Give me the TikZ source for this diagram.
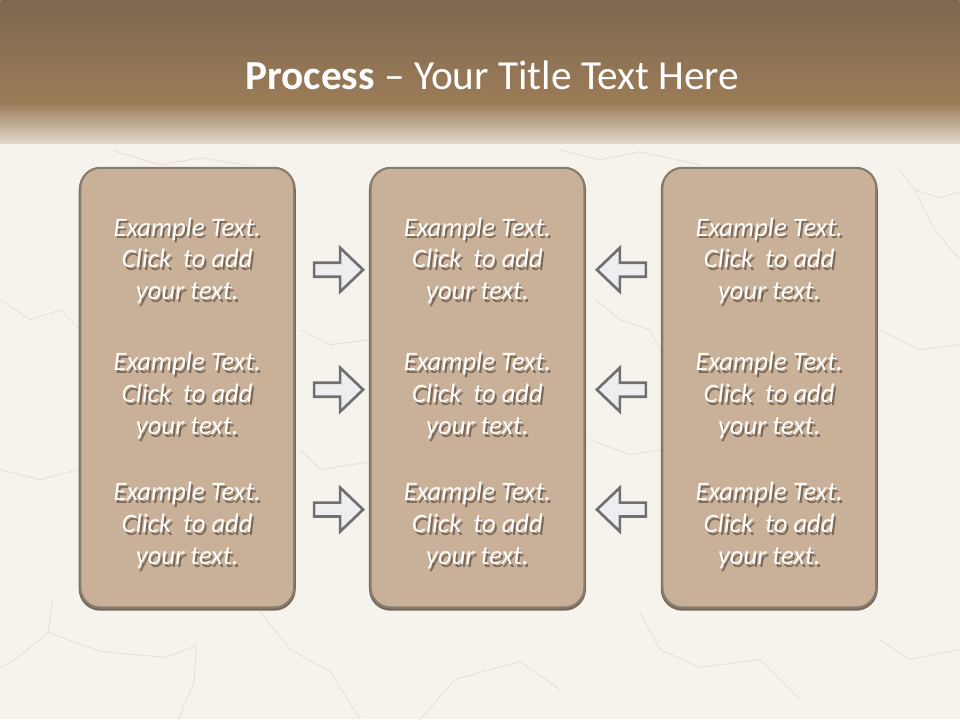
\documentclass[tikz,border=0pt]{standalone}
\usepackage{fontspec}
\setmainfont{Carlito}
\usetikzlibrary{positioning}

\definecolor{paper}{RGB}{246,242,236}
\definecolor{crack}{RGB}{229,222,215}
\definecolor{hdtop}{RGB}{125,103,80}
\definecolor{hdbot}{RGB}{156,124,88}
\definecolor{hdfade}{RGB}{226,216,205}
\definecolor{panelfill}{RGB}{201,177,153}
\definecolor{panelline}{RGB}{138,124,108}
\definecolor{panelshade}{RGB}{125,105,86}
\definecolor{arrowfill}{RGB}{238,238,240}
\definecolor{arrowline}{RGB}{112,112,112}

% panel text, with a soft shadow behind it
\newcommand\blurbtext{\begin{tabular}{@{}c@{}}Example Text.\\Click\ \ to add\\your text.\end{tabular}}
\newcommand\withshadow[1]{\rlap{\hspace{1.5pt}\raisebox{-1.8pt}{\color{panelshade}#1}}#1}

\begin{document}
\begin{tikzpicture}[
  x=0.75pt, y=-0.75pt,
  panel/.style={draw=panelline, line width=1.6pt, fill=panelfill,
                rounded corners=15pt, minimum width=160.5pt, minimum height=330pt,
                preaction={draw=panelline!85!black, line width=2.4pt,
                           transform canvas={yshift=-1.2pt}}},
  blurb/.style={inner sep=0pt, text=white, font=\fontsize{20}{24}\selectfont\itshape},
  pics/rarr/.style={code={
    \draw[draw=arrowline, fill=arrowfill, line width=2pt, line join=miter]
      (-24.5,-7) -- (1.5,-7) -- (1.5,-22) -- (24.5,0) -- (1.5,22) -- (1.5,7)
      -- (-24.5,7) -- cycle;}},
  pics/larr/.style={code={
    \draw[draw=arrowline, fill=arrowfill, line width=2pt, line join=miter]
      (24.5,-7) -- (-1.5,-7) -- (-1.5,-22) -- (-24.5,0) -- (-1.5,22) -- (-1.5,7)
      -- (24.5,7) -- cycle;}},
]
% background and header band
\fill[paper] (0,0) rectangle (960,720);
\begin{scope}[crack, line width=0.6pt]
  \draw (52,600) -- (48,633) -- (15,660) -- (0,668);
  \draw (48,633) -- (100,652) -- (165,658) -- (196,646);
  \draw (196,646) -- (194,682) -- (178,720);
  \draw (260,612) -- (290,650) -- (330,672) -- (360,720);
  \draw (420,720) -- (455,680) -- (520,662) -- (560,690);
  \draw (640,612) -- (660,650) -- (700,668) -- (760,660) -- (800,700);
  \draw (880,640) -- (910,660) -- (960,650);
  \draw (900,170) -- (915,190) -- (940,198) -- (960,192);
  \draw (915,190) -- (935,230) -- (960,260);
  \draw (880,330) -- (920,350) -- (960,345);
  \draw (0,300) -- (30,320) -- (60,310) -- (80,330);
  \draw (0,470) -- (40,480) -- (78,470);
  \draw (596,300) -- (620,320) -- (650,330) -- (663,355);
  \draw (300,330) -- (330,345) -- (370,340);
  \draw (300,450) -- (320,470) -- (370,462);
  \draw (590,440) -- (630,455) -- (662,450);
  \draw (110,150) -- (160,165) -- (200,158) -- (250,166);
  \draw (560,150) -- (600,160) -- (640,152) -- (700,165);
\end{scope}
\shade[top color=hdtop, bottom color=hdbot] (0,0) rectangle (960,104);
\shade[top color=hdbot, bottom color=hdfade] (0,103) rectangle (960,144);
\useasboundingbox (0,0) rectangle (960,720);

\node[text=white, font=\fontsize{31}{37}\selectfont] (title) at (492.5,75)
  {\textbf{Process} – Your Title Text Here};

% panels
\node[panel] (left) at (187,388) {};
\node[panel] (mid) at (477.5,388) {};
\node[panel] (right) at (769.5,388) {};

\foreach \p/\x in {l/187, m/477.5, r/769.5}{
  \foreach \r/\y in {1/263, 2/398, 3/528}{
    \node[blurb] (t-\p-\r) at (\x,\y) {\withshadow{\blurbtext}};
  }
}

% arrows towards the middle panel
\foreach \r/\y in {1/270, 2/390, 3/510}{
  \pic (ra\r) at (338.5,\y) {rarr};
  \pic (la\r) at (621.5,\y) {larr};
}
\end{tikzpicture}
\end{document}
